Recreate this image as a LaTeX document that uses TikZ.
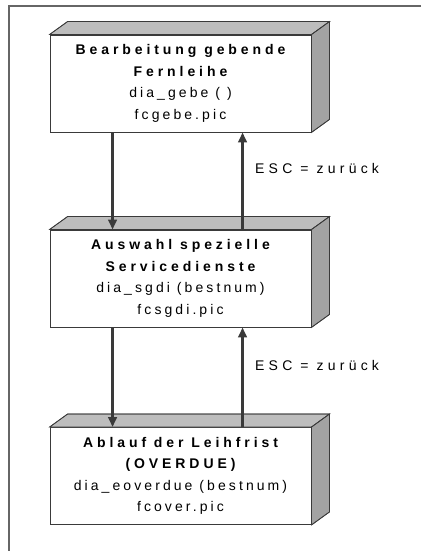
\documentclass[tikz,border=0pt]{standalone}
\usepackage{fontspec}
\newfontfamily\regfont[LetterSpace=22]{Liberation Sans}
\newfontfamily\escfont[LetterSpace=30]{Liberation Sans}
\newfontfamily\boldfont[LetterSpace=28]{Liberation Sans Bold}
\usetikzlibrary{arrows.meta}
\definecolor{edge}{HTML}{3A3A3A}
\tikzset{
  frontbox/.style={draw=edge, line width=0.9pt, fill=white, minimum width=261pt, minimum height=97pt,
    inner sep=0pt, align=center, font=\regfont\fontsize{14}{21.5}\selectfont},
  topface/.style={fill=gray!52, draw=edge, line width=0.7pt},
  sideface/.style={fill=gray!72, draw=edge, line width=0.7pt},
  arr/.style={draw=edge, line width=2.6pt, -{Triangle[width=8.5pt,length=10pt]}},
  esc/.style={anchor=base west, inner sep=0pt, font=\escfont\fontsize{14}{16}\selectfont},
  frame/.style={draw=gray!80!black, line width=1.1pt}
}
\newcommand{\depthbox}[1]{%
  \fill[topface] (#1.north west) -- ++(18,-13) -- ([shift={(18,-13)}]#1.north east) -- (#1.north east) -- cycle;
  \fill[sideface] (#1.north east) -- ++(18,-13) -- ([shift={(18,-13)}]#1.south east) -- (#1.south east) -- cycle;
  \draw[topface,fill=none] (#1.north west) -- ++(18,-13) -- ([shift={(18,-13)}]#1.north east) -- (#1.north east);
  \draw[sideface,fill=none] ([shift={(18,-13)}]#1.north east) -- ([shift={(18,-13)}]#1.south east) -- (#1.south east);
}
\begin{document}
\begin{tikzpicture}[x=1pt,y=-1pt]
\useasboundingbox (0,0) rectangle (421,551);
\fill[white] (0,0) rectangle (421,551);
\coordinate (ftl) at (9,6);
\coordinate (ftr) at (421,6);
\coordinate (fbl) at (9,551);
\draw[frame] (ftr) -- (ftl) -- (fbl);

\node[frontbox] (b1) at (180.5,83.5) {{\boldfont Bearbeitung gebende}\\{\boldfont Fernleihe}\\dia\_gebe ( )\\fcgebe.pic};
\node[frontbox] (b2) at (180.5,278.5) {{\boldfont Auswahl spezielle}\\{\boldfont Servicedienste}\\dia\_sgdi (bestnum)\\fcsgdi.pic};
\node[frontbox] (b3) at (180.5,476) {{\boldfont Ablauf der Leihfrist}\\{\boldfont (OVERDUE)}\\dia\_eoverdue (bestnum)\\fcover.pic};

\depthbox{b1}
\depthbox{b2}
\depthbox{b3}

\draw[arr] ([xshift=63pt]b1.south west) -- ([xshift=63pt]b2.north west);
\draw[arr] ([xshift=193pt]b2.north west) -- ([xshift=193pt]b1.south west);
\draw[arr] ([xshift=63pt]b2.south west) -- ([xshift=63pt]b3.north west);
\draw[arr] ([xshift=193pt]b3.north west) -- ([xshift=193pt]b2.south west);

\node[esc] (l1) at (255,173) {ESC = zurück};
\node[esc] (l2) at (255,370) {ESC = zurück};
\end{tikzpicture}
\end{document}
